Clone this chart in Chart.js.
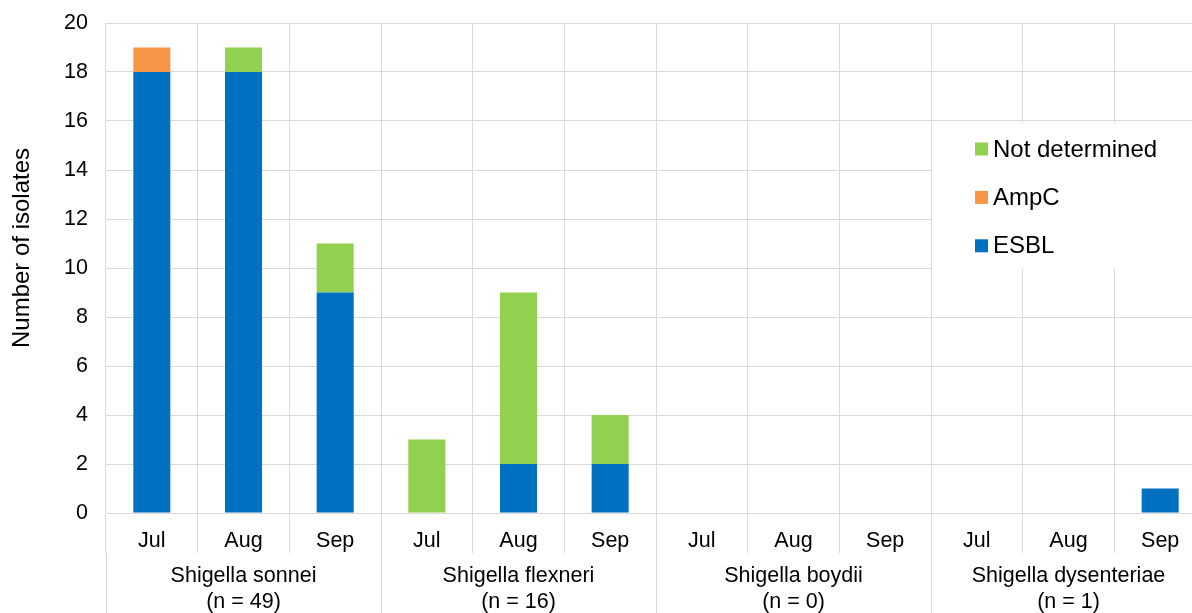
<!DOCTYPE html>
<html>
<head>
<meta charset="utf-8">
<script src="https://cdn.jsdelivr.net/npm/chart.js@4"></script>
<style>
  html, body { margin: 0; padding: 0; overflow: hidden; background: #fff; }
  #wrap { width: 1192px; height: 613px; overflow: hidden; }
  canvas { display: block; }
</style>
</head>
<body>
<div id="wrap"><canvas id="c" width="1210" height="613"></canvas></div>
<script>
// Months shown under each species group
const months = ['Jul', 'Aug', 'Sep', 'Jul', 'Aug', 'Sep', 'Jul', 'Aug', 'Sep', 'Jul', 'Aug', 'Sep'];
// Species groups with totals
const groups = [
  ['Shigella sonnei', '(n = 49)'],
  ['Shigella flexneri', '(n = 16)'],
  ['Shigella boydii', '(n = 0)'],
  ['Shigella dysenteriae', '(n = 1)']
];
// Isolate counts per month, by resistance mechanism
const esbl          = [18, 18, 9, 0, 2, 2, 0, 0, 0, 0, 0, 1];
const ampc          = [1, 0, 0, 0, 0, 0, 0, 0, 0, 0, 0, 0];
const notDetermined = [0, 1, 2, 3, 7, 2, 0, 0, 0, 0, 0, 0];
const yTicks = [0, 2, 4, 6, 8, 10, 12, 14, 16, 18, 20];

const FONT = '"Liberation Sans", Arial, sans-serif';
const GRID = '#d9d9d9';
const TEXT = '#000000';

// Legend drawn inside the plot on a white panel (top series first)
const insetLegend = {
  id: 'insetLegend',
  afterDraw(chart) {
    const ctx = chart.ctx;
    const area = chart.chartArea;
    ctx.save();
    ctx.fillStyle = '#ffffff';
    ctx.fillRect(932, 123, area.right - 932 + 10, 146);
    const items = chart.data.datasets.slice().reverse();
    ctx.font = '24px ' + FONT;
    ctx.textBaseline = 'middle';
    ctx.textAlign = 'left';
    items.forEach((ds, i) => {
      const cy = 149 + i * 48.4;
      ctx.fillStyle = ds.backgroundColor;
      ctx.fillRect(975, cy - 6.5, 13, 13);
      ctx.fillStyle = TEXT;
      ctx.fillText(ds.label, 993, cy + 1);
    });
    ctx.restore();
  }
};

// Rotated value-axis title
const yTitle = {
  id: 'yTitle',
  afterDraw(chart) {
    const ctx = chart.ctx;
    ctx.save();
    ctx.translate(22, 248);
    ctx.rotate(-Math.PI / 2);
    ctx.font = '24px ' + FONT;
    ctx.fillStyle = TEXT;
    ctx.textAlign = 'center';
    ctx.textBaseline = 'middle';
    ctx.fillText('Number of isolates', 0, 0);
    ctx.restore();
  }
};

new Chart(document.getElementById('c'), {
  type: 'bar',
  data: {
    labels: months,
    datasets: [
      { label: 'ESBL', data: esbl, backgroundColor: '#0070C0' },
      { label: 'AmpC', data: ampc, backgroundColor: '#F79646' },
      { label: 'Not determined', data: notDetermined, backgroundColor: '#92D050' }
    ]
  },
  options: {
    responsive: false,
    devicePixelRatio: 1,
    animation: false,
    events: [],
    barPercentage: 0.404,
    categoryPercentage: 1,
    layout: { padding: { top: 23, right: 4, left: 0, bottom: 0 } },
    plugins: {
      legend: { display: false },
      tooltip: { enabled: false }
    },
    scales: {
      x: {
        type: 'category',
        position: 'bottom',
        weight: 0,
        stacked: true,
        offset: true,
        grid: { offset: true, color: GRID, lineWidth: 1, drawTicks: true, tickLength: 40, tickColor: GRID },
        border: { display: true, color: GRID, width: 1 },
        ticks: { color: TEXT, font: { family: FONT, size: 21.5 }, padding: -25, maxRotation: 0, autoSkip: false },
        afterFit(scale) { scale.height = 40; }
      },
      x2: {
        type: 'category',
        position: 'bottom',
        weight: 1,
        labels: groups,
        offset: true,
        grid: { offset: true, drawOnChartArea: false, color: GRID, lineWidth: 1, drawTicks: true, tickLength: 70, tickColor: GRID },
        border: { display: false },
        ticks: { color: TEXT, font: { family: FONT, size: 21.5, lineHeight: 1.2 }, padding: -60, maxRotation: 0, autoSkip: false },
        afterFit(scale) { scale.height = 60; }
      },
      y: {
        stacked: true,
        min: 0,
        max: 20,
        afterBuildTicks(scale) { scale.ticks = yTicks.map(v => ({ value: v })); },
        grid: { color: GRID, lineWidth: 1, drawTicks: false },
        border: { display: false },
        ticks: { color: TEXT, font: { family: FONT, size: 21.5 }, padding: 18 },
        afterFit(scale) {
          scale.width = 106;
          scale.paddingTop = 12;
          scale.paddingBottom = 12;
        }
      }
    }
  },
  plugins: [insetLegend, yTitle]
});
</script>
</body>
</html>
